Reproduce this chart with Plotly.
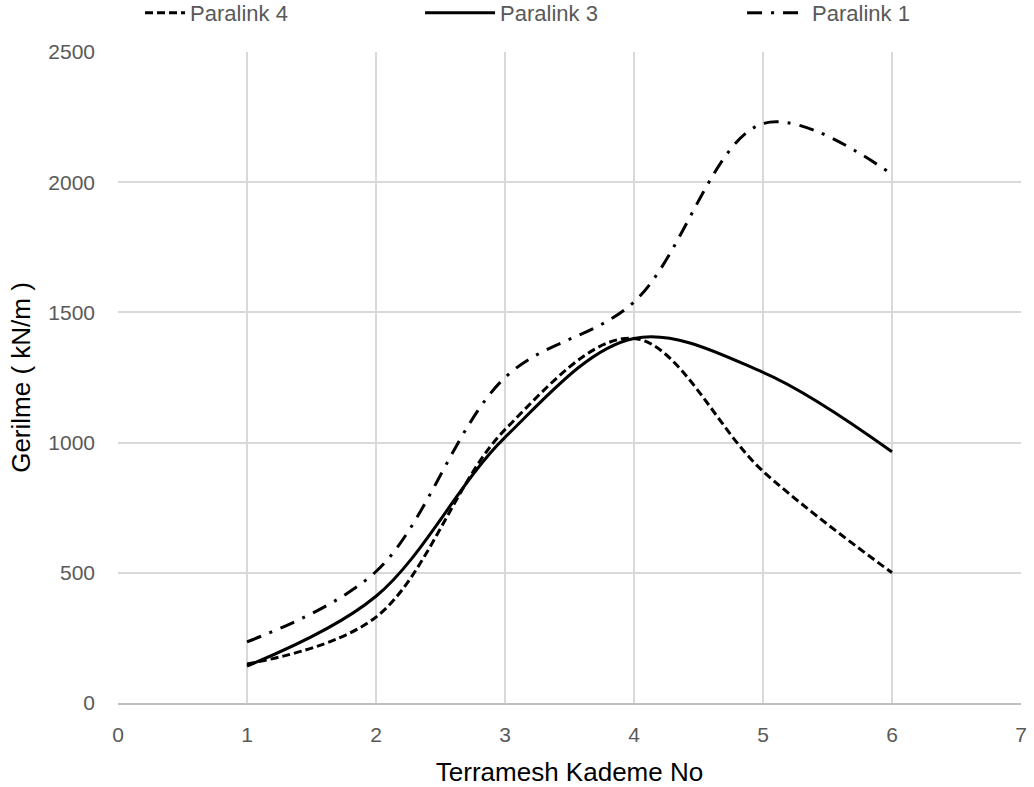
import plotly.graph_objects as go

x_vals = [1, 2, 3, 4, 5, 6]
paralink4 = [150, 330, 1050, 1400, 890, 500]
paralink3 = [142, 410, 1020, 1400, 1270, 965]
paralink1 = [235, 505, 1250, 1540, 2225, 2030]

x_ticks = [0, 1, 2, 3, 4, 5, 6, 7]
y_ticks = [0, 500, 1000, 1500, 2000, 2500]

FONT = "Liberation Sans, Arial, sans-serif"
W, H = 1034, 787

fig = go.Figure()
fig.add_trace(go.Scatter(x=x_vals, y=paralink4, name="Paralink 4", mode="lines", legend="legend",
                         line=dict(color="black", width=3, dash="8px,4px", shape="spline", smoothing=1)))
fig.add_trace(go.Scatter(x=x_vals, y=paralink3, name="Paralink 3", mode="lines", legend="legend2",
                         line=dict(color="black", width=3, shape="spline", smoothing=1)))
fig.add_trace(go.Scatter(x=x_vals, y=paralink1, name="Paralink 1", mode="lines", legend="legend3",
                         line=dict(color="black", width=3, dash="15px,9px,3px,9px", shape="spline", smoothing=1)))

leg_common = dict(orientation="h", yref="container", y=1 - 13 / H, yanchor="middle",
                  xanchor="left", font=dict(family=FONT, size=22, color="#595959"),
                  bgcolor="rgba(0,0,0,0)")

fig.update_layout(
    width=W, height=H,
    margin=dict(l=118, r=13, t=52, b=84, autoexpand=False),
    paper_bgcolor="white", plot_bgcolor="white",
    font=dict(family=FONT, size=21, color="#595959"),
    showlegend=True,
    legend=dict(x=0.0244, itemwidth=40, **leg_common),
    legend2=dict(x=0.3345, itemwidth=70, **leg_common),
    legend3=dict(x=0.6911, itemwidth=60, **leg_common),
)
fig.update_xaxes(range=[0, 7], tickvals=x_ticks, showgrid=True, gridcolor="#d9d9d9", gridwidth=1.5,
                 zeroline=False, showline=True, linecolor="#bfbfbf", linewidth=2,
                 ticks="", ticklabelstandoff=12, tickfont=dict(size=21, color="#595959"),
                 title=dict(text="Terramesh Kademe No", font=dict(size=26, color="black"), standoff=24))
fig.update_yaxes(range=[0, 2500], tickvals=y_ticks, showgrid=True, gridcolor="#d9d9d9", gridwidth=1.5,
                 zeroline=False, showline=False, ticks="", ticklabelstandoff=22,
                 tickfont=dict(size=21, color="#595959"),
                 title=dict(text="Gerilme ( kN/m )", font=dict(size=26, color="black"), standoff=10))

fig.write_html("out.html", config={"displayModeBar": False},
               post_script="document.body.style.margin='0';document.body.style.overflow='hidden';")
